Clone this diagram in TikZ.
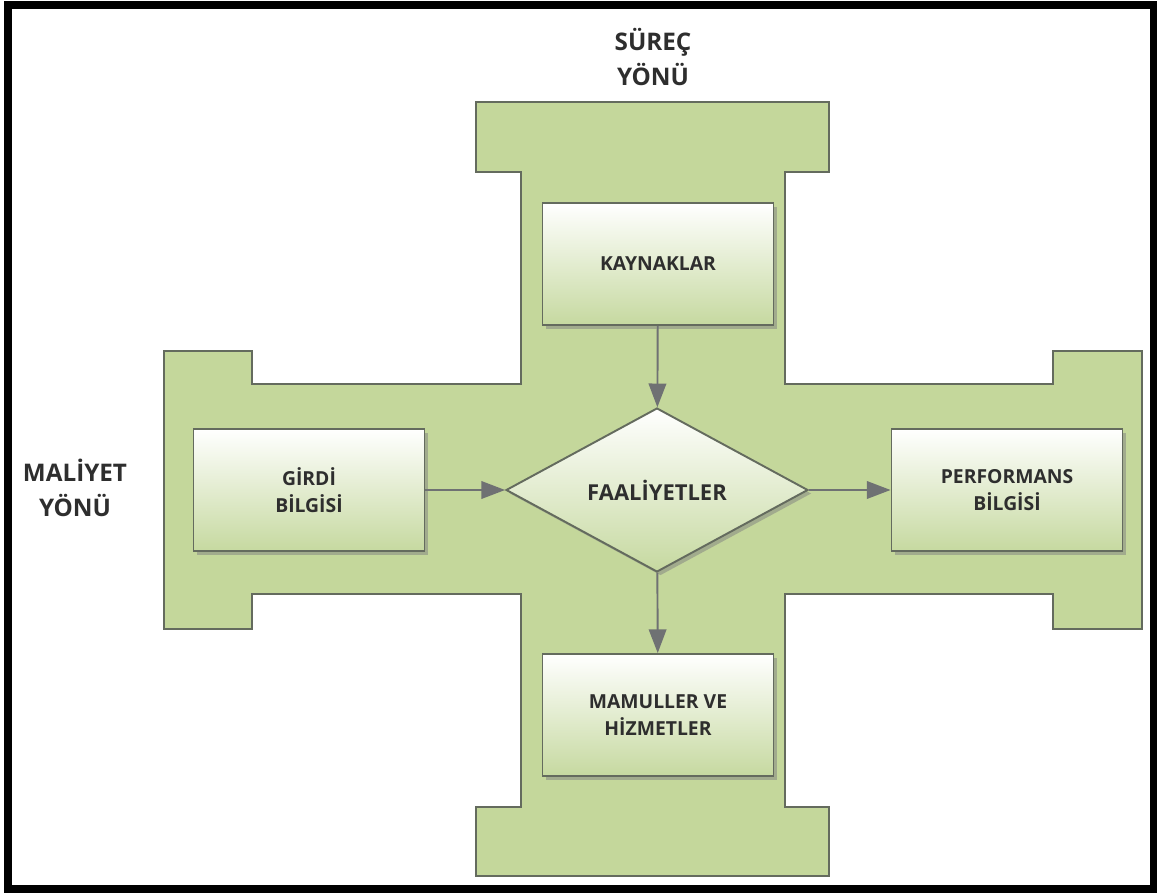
\documentclass[tikz,border=0pt]{standalone}
\usepackage{fontspec}
\setmainfont{Open Sans}
\usepackage{tikz}
\usetikzlibrary{shapes.geometric,arrows.meta,shadows}
\definecolor{crossgreen}{HTML}{C4D79B}
\definecolor{boxgreen}{HTML}{C6D9A0}
\definecolor{edgegray}{HTML}{646B5E}
\definecolor{arrowgray}{HTML}{6F7173}
\definecolor{textgray}{HTML}{2E2E2E}
\tikzset{
  box/.style={draw=edgegray,line width=1.1pt,top color=white,bottom color=boxgreen,
    minimum width=4.62cm,minimum height=2.44cm,align=center,text=textgray,
    font=\fontsize{11}{15.4}\selectfont\bfseries,
    drop shadow={shadow xshift=2pt,shadow yshift=-2pt,opacity=0.5}},
  flow/.style={draw=arrowgray,line width=1.1pt,-{Triangle[length=13.5pt,width=10pt]}},
  side/.style={align=center,text=textgray,font=\fontsize{13.8}{19.5}\selectfont\bfseries}
}
\begin{document}
\begin{tikzpicture}[x=0.02cm,y=-0.02cm]
\useasboundingbox (0,0) rectangle (1157,895);
\filldraw[fill=crossgreen,draw=edgegray,line width=1.1pt]
  (476,102) -- (829,102) -- (829,172) -- (785,172) -- (785,384) -- (1053,384) -- (1053,351)
  -- (1142,351) -- (1142,629) -- (1053,629) -- (1053,594) -- (785,594) -- (785,807)
  -- (829,807) -- (829,876) -- (476,876) -- (476,807) -- (521,807) -- (521,594)
  -- (252,594) -- (252,629) -- (164,629) -- (164,351) -- (252,351) -- (252,384)
  -- (521,384) -- (521,172) -- (476,172) -- cycle;
\node[side] (surec) at (653,57) {SÜREÇ\\YÖNÜ};
\node[side] (maliyet) at (75,488) {MALİYET\\YÖNÜ};
\node[box] (kaynak) at (658,264) {KAYNAKLAR};
\node[box] (girdi) at (309,490) {GİRDİ\\BİLGİSİ};
\node[box] (perf) at (1007,490) {PERFORMANS\\BİLGİSİ};
\node[box] (mamul) at (658,715) {MAMULLER VE\\HİZMETLER};
\node[diamond,draw=edgegray,line width=1.1pt,top color=white,bottom color=boxgreen,
  aspect=1.84,minimum width=6.04cm,minimum height=3.28cm,inner sep=0pt,text=textgray,
  font=\fontsize{12.5}{15}\selectfont\bfseries,
  drop shadow={shadow xshift=2pt,shadow yshift=-2pt,opacity=0.5}] (faal) at (657,490) {FAALİYETLER};
\draw[flow] (kaynak) -- (faal);
\draw[flow] (girdi) -- (faal);
\draw[flow] (faal) -- (perf);
\draw[flow] (faal) -- (mamul);
\draw[line width=4.6pt] (8,5) rectangle (1154,889);
\end{tikzpicture}
\end{document}
